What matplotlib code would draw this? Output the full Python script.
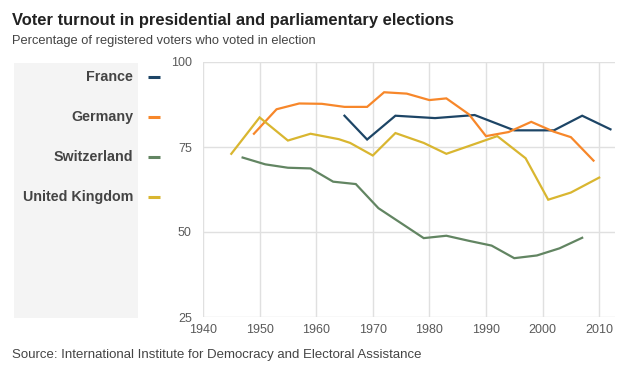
import matplotlib
matplotlib.use("Agg")
import matplotlib.pyplot as plt
from matplotlib.patches import Rectangle
from matplotlib.lines import Line2D

plt.rcParams['font.family'] = ['Liberation Sans', 'DejaVu Sans']

# --- Data ---
countries = ["France", "Germany", "Switzerland", "United Kingdom"]
colors = ["#1d4566", "#f7872a", "#628562", "#d9b630"]

france_years = [1965, 1969, 1974, 1981, 1988, 1995, 2002, 2007, 2012]
france_vals = [84.2, 77.2, 84.2, 83.5, 84.4, 79.9, 79.9, 84.2, 80.2]

germany_years = [1949, 1953, 1957, 1961, 1965, 1969, 1972, 1976, 1980, 1983, 1987, 1990, 1994, 1998, 2002, 2005, 2009]
germany_vals = [78.9, 86.1, 87.8, 87.7, 86.8, 86.8, 91.1, 90.7, 88.8, 89.3, 84.6, 78.2, 79.4, 82.4, 79.5, 77.9, 71.0]

swiss_years = [1947, 1951, 1955, 1959, 1963, 1967, 1971, 1975, 1979, 1983, 1987, 1991, 1995, 1999, 2003, 2007]
swiss_vals = [71.9, 69.9, 68.9, 68.7, 64.8, 64.1, 57.0, 52.6, 48.2, 48.9, 47.4, 46.0, 42.3, 43.1, 45.2, 48.3]

uk_years = [1945, 1950, 1955, 1959, 1964, 1966, 1970, 1974, 1979, 1983, 1987, 1992, 1997, 2001, 2005, 2010]
uk_vals = [73.0, 83.7, 76.9, 78.9, 77.3, 76.2, 72.5, 79.1, 76.2, 73.0, 75.3, 78.2, 71.7, 59.5, 61.6, 66.0]

series = [(france_years, france_vals), (germany_years, germany_vals),
          (swiss_years, swiss_vals), (uk_years, uk_vals)]

x_ticks = [1940, 1950, 1960, 1970, 1980, 1990, 2000, 2010]
y_ticks = [25, 50, 75, 100]

# --- Figure ---
fig = plt.figure(figsize=(6.36, 3.70), dpi=100)
W, H = 636, 370

def fx(px):
    return px / W

def fy(py):
    return 1 - py / H

# grey legend panel
fig.patches.append(Rectangle((fx(14), fy(318)), fx(138) - fx(14), fy(63) - fy(318),
                             transform=fig.transFigure, facecolor='#f4f4f4', edgecolor='none', zorder=0))

ax = fig.add_axes([fx(203), fy(317), fx(615) - fx(203), fy(62) - fy(317)])
ax.set_facecolor('none')

for (yrs, vals), c in zip(series, colors):
    ax.plot(yrs, vals, color=c, lw=1.6, solid_joinstyle='miter', zorder=3)

ax.set_xlim(1940, 2012.8)
ax.set_ylim(25, 100)
ax.set_xticks(x_ticks)
ax.set_yticks(y_ticks)
ax.grid(True, color='#e0e0e0', lw=1)
ax.set_axisbelow(True)
for s in ax.spines.values():
    s.set_visible(False)
ax.tick_params(length=0, labelsize=9, colors='#5a5a5a', pad=5)
ax.tick_params(axis='y', pad=8)

# legend labels with short coloured dashes
for i, (name, c) in enumerate(zip(countries, colors)):
    ypx = 77 + 40 * i
    fig.text(fx(133), fy(ypx), name, ha='right', va='center', fontsize=10.3,
             fontweight='bold', color='#444444')
    fig.lines.append(Line2D([fx(148), fx(160)], [fy(ypx), fy(ypx)], transform=fig.transFigure,
                            color=c, lw=2.2, solid_capstyle='butt'))

fig.text(fx(12), fy(20), "Voter turnout in presidential and parliamentary elections",
         ha='left', va='center', fontsize=11.9, fontweight='bold', color='#222222')
fig.text(fx(12), fy(41), "Percentage of registered voters who voted in election",
         ha='left', va='center', fontsize=9.3, color='#444444')
fig.text(fx(12), fy(355), "Source: International Institute for Democracy and Electoral Assistance",
         ha='left', va='center', fontsize=9.5, color='#444444')

fig.savefig("out.png", dpi=100)
